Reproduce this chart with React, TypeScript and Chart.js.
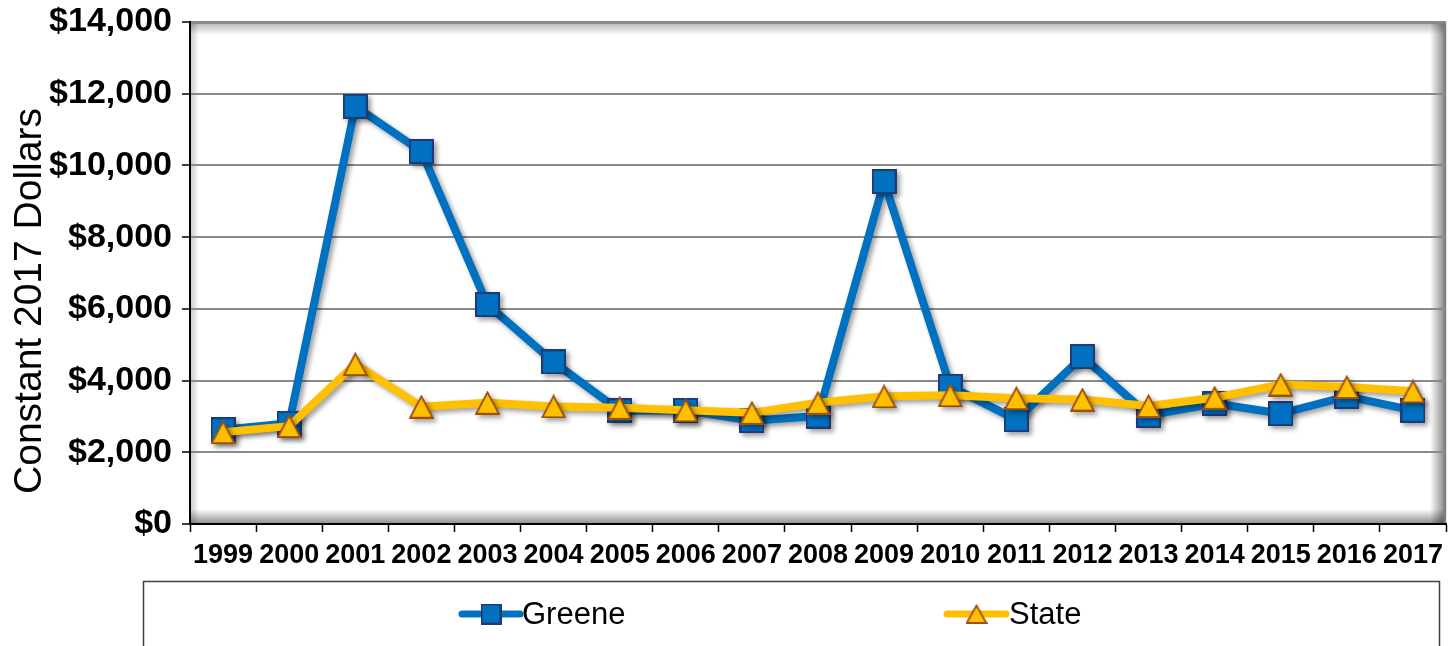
import React, { useEffect, useRef } from 'react';
import { Chart, registerables } from 'chart.js';

Chart.register(...registerables);

const years = ['1999', '2000', '2001', '2002', '2003', '2004', '2005', '2006', '2007', '2008', '2009', '2010', '2011', '2012', '2013', '2014', '2015', '2016', '2017'];
const greeneValues = [2630, 2810, 11650, 10390, 6120, 4520, 3160, 3170, 2880, 3010, 9550, 3840, 2910, 4670, 3030, 3360, 3080, 3560, 3170];
const stateValues = [2560, 2730, 4460, 3270, 3380, 3280, 3240, 3170, 3100, 3380, 3560, 3590, 3510, 3470, 3290, 3520, 3890, 3820, 3700];
const yTickValues = [0, 2000, 4000, 6000, 8000, 10000, 12000, 14000];
const seriesNames = ['Greene', 'State'];
const yTitle = 'Constant 2017 Dollars';

const FONT = '"Liberation Sans", Arial, sans-serif';
const BLUE = '#0070C0';
const BLUE_EDGE = '#1F3A78';
const GOLD = '#FFC000';
const GOLD_EDGE = '#A0500A';

function makeSquare(size: number) {
  const c = document.createElement('canvas');
  c.width = size;
  c.height = size;
  const x = c.getContext('2d')!;
  x.fillStyle = BLUE;
  x.fillRect(0, 0, size, size);
  x.strokeStyle = BLUE_EDGE;
  x.lineWidth = 2;
  x.strokeRect(1, 1, size - 2, size - 2);
  return c;
}

function makeTriangle(w: number, h: number) {
  const c = document.createElement('canvas');
  c.width = w;
  c.height = h;
  const x = c.getContext('2d')!;
  x.beginPath();
  x.moveTo(w / 2, 1.5);
  x.lineTo(w - 1.2, h - 1);
  x.lineTo(1.2, h - 1);
  x.closePath();
  x.fillStyle = GOLD;
  x.fill();
  x.strokeStyle = GOLD_EDGE;
  x.lineWidth = 1.8;
  x.lineJoin = 'miter';
  x.stroke();
  return c;
}

export default function App() {
  const ref = useRef<HTMLCanvasElement>(null);

  useEffect(() => {
    document.body.style.margin = '0';
    const canvas = ref.current!;
    const square = makeSquare(25);
    const triangle = makeTriangle(25, 24);
    const squareLegend = makeSquare(21);
    const triangleLegend = makeTriangle(22, 20);

    const plotBackground = {
      id: 'plotBackground',
      beforeDraw(chart: any) {
        const { ctx, chartArea } = chart;
        const { left, top, right, bottom } = chartArea;
        const w = right - left;
        const h = bottom - top;
        ctx.save();
        ctx.fillStyle = '#ffffff';
        ctx.fillRect(left, top, w, h);
        let g = ctx.createLinearGradient(0, top, 0, top + 13);
        g.addColorStop(0, 'rgba(0,0,0,0.30)');
        g.addColorStop(1, 'rgba(0,0,0,0)');
        ctx.fillStyle = g;
        ctx.fillRect(left, top, w, 13);
        g = ctx.createLinearGradient(left, 0, left + 9, 0);
        g.addColorStop(0, 'rgba(0,0,0,0.22)');
        g.addColorStop(1, 'rgba(0,0,0,0)');
        ctx.fillStyle = g;
        ctx.fillRect(left, top, 9, h);
        g = ctx.createLinearGradient(0, bottom, 0, bottom - 15);
        g.addColorStop(0, 'rgba(0,0,0,0.45)');
        g.addColorStop(1, 'rgba(0,0,0,0)');
        ctx.fillStyle = g;
        ctx.fillRect(left, bottom - 15, w, 15);
        g = ctx.createLinearGradient(right, 0, right - 16, 0);
        g.addColorStop(0, 'rgba(0,0,0,0.5)');
        g.addColorStop(1, 'rgba(0,0,0,0)');
        ctx.fillStyle = g;
        ctx.fillRect(right - 16, top, 16, h);
        ctx.strokeStyle = '#7f7f7f';
        ctx.lineWidth = 2.5;
        ctx.beginPath();
        ctx.moveTo(left, top + 0.5);
        ctx.lineTo(right, top + 0.5);
        ctx.moveTo(right - 1, top);
        ctx.lineTo(right - 1, bottom);
        ctx.stroke();
        ctx.restore();
      },
    };

    const shadow = {
      id: 'shadow',
      beforeDatasetsDraw(chart: any) {
        const ctx = chart.ctx;
        ctx.save();
        ctx.shadowColor = 'rgba(0,0,0,0.38)';
        ctx.shadowBlur = 5;
        ctx.shadowOffsetX = 3;
        ctx.shadowOffsetY = 3;
      },
      afterDatasetsDraw(chart: any) {
        chart.ctx.restore();
      },
    };

    const yTitlePlugin = {
      id: 'yTitlePlugin',
      afterDraw(chart: any) {
        const ctx = chart.ctx;
        ctx.save();
        ctx.translate(30, 301);
        ctx.rotate(-Math.PI / 2);
        ctx.font = `39px ${FONT}`;
        ctx.fillStyle = '#000';
        ctx.textAlign = 'center';
        ctx.textBaseline = 'middle';
        ctx.fillText(yTitle, 0, 0);
        ctx.restore();
      },
    };

    const legendPlugin = {
      id: 'customLegend',
      afterDraw(chart: any) {
        const ctx = chart.ctx;
        ctx.save();
        ctx.strokeStyle = '#404040';
        ctx.lineWidth = 1.5;
        ctx.strokeRect(143.5, 581.5, 1296, 120);
        const cy = 614;
        const items = [
          { label: seriesNames[0], color: BLUE, x0: 462, x1: 520, img: squareLegend, tx: 522 },
          { label: seriesNames[1], color: GOLD, x0: 947, x1: 1006, img: triangleLegend, tx: 1009 },
        ];
        for (const it of items) {
          ctx.strokeStyle = it.color;
          ctx.lineWidth = 7;
          ctx.lineCap = 'round';
          ctx.beginPath();
          ctx.moveTo(it.x0, cy);
          ctx.lineTo(it.x1, cy);
          ctx.stroke();
          const mx = (it.x0 + it.x1) / 2;
          ctx.drawImage(it.img, mx - it.img.width / 2, cy - it.img.height / 2);
          ctx.font = `31px ${FONT}`;
          ctx.fillStyle = '#000';
          ctx.textAlign = 'left';
          ctx.textBaseline = 'middle';
          ctx.fillText(it.label, it.tx, cy + 1);
        }
        ctx.restore();
      },
    };

    const chart = new Chart(canvas, {
      type: 'line',
      data: {
        labels: years,
        datasets: [
          {
            label: seriesNames[0],
            data: greeneValues,
            borderColor: BLUE,
            borderWidth: 8,
            pointStyle: square as any,
            pointRadius: 12,
            pointHoverRadius: 12,
            tension: 0,
            order: 2,
            borderJoinStyle: 'round',
          },
          {
            label: seriesNames[1],
            data: stateValues,
            borderColor: GOLD,
            borderWidth: 8,
            pointStyle: triangle as any,
            pointRadius: 12,
            pointHoverRadius: 12,
            tension: 0,
            order: 1,
            borderJoinStyle: 'round',
          },
        ],
      },
      options: {
        animation: false,
        responsive: false,
        devicePixelRatio: 1,
        layout: { autoPadding: false, padding: { top: 22, right: 4, left: 0, bottom: 0 } },
        plugins: {
          legend: { display: false },
          tooltip: { enabled: false },
          title: { display: false },
        },
        scales: {
          x: {
            offset: true,
            grid: {
              offset: true,
              drawOnChartArea: false,
              drawTicks: true,
              tickLength: 8,
              tickColor: '#000',
              tickWidth: 1.5,
            },
            border: { display: true, color: '#000', width: 2 },
            ticks: {
              font: { family: FONT, size: 27, weight: 'bold' },
              color: '#000',
              autoSkip: false,
              maxRotation: 0,
              minRotation: 0,
              padding: 7,
            },
            afterFit: (s: any) => {
              s.height = 122;
              s.paddingLeft = 0;
              s.paddingRight = 0;
            },
          },
          y: {
            min: 0,
            max: 14000,
            afterBuildTicks: (s: any) => {
              s.ticks = yTickValues.map((v) => ({ value: v }));
            },
            ticks: {
              callback: (v: any) => '$' + Number(v).toLocaleString('en-US'),
              font: { family: FONT, size: 34, weight: 'bold' },
              color: '#000',
              padding: 10,
            },
            grid: {
              color: '#8a8a8a',
              lineWidth: 2,
              tickColor: '#000',
              tickLength: 8,
              tickWidth: 1.5,
            },
            border: { display: true, color: '#000', width: 2 },
            afterFit: (s: any) => {
              s.width = 190;
              s.paddingTop = 0;
              s.paddingBottom = 0;
            },
          },
        },
      },
      plugins: [plotBackground, shadow, yTitlePlugin, legendPlugin],
    });

    return () => chart.destroy();
  }, []);

  return (
    <div style={{ width: 1450, height: 646, position: 'relative' }}>
      <canvas ref={ref} width={1450} height={646} />
    </div>
  );
}
